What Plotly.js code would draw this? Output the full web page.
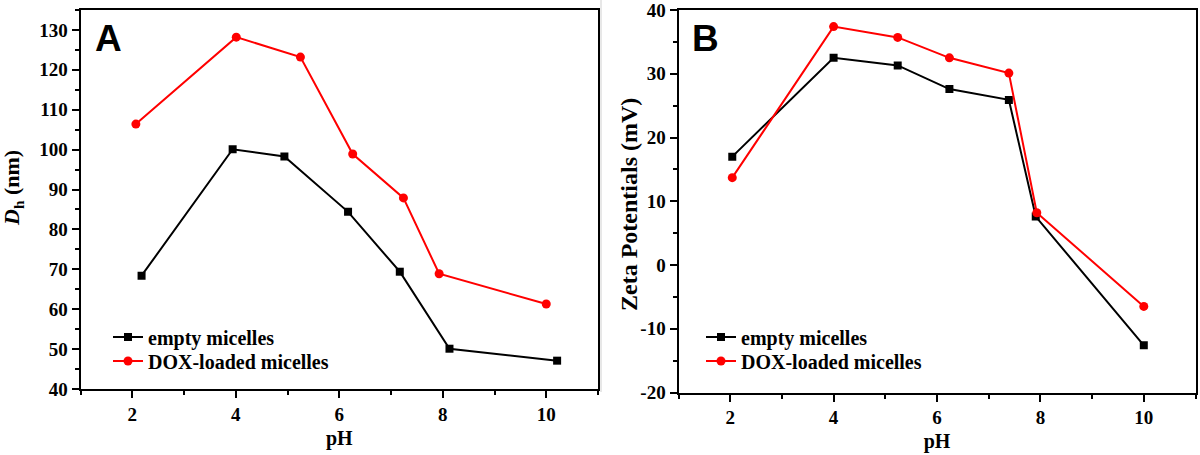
<!DOCTYPE html>
<html>
<head>
<meta charset="utf-8">
<script src="https://cdn.plot.ly/plotly-3.0.1.min.js"></script>
<style>html,body{margin:0;padding:0;background:#fff;}#chart{width:1200px;height:455px;}</style>
</head>
<body>
<div id="chart"></div>
<script>
// Panel A: hydrodynamic diameter vs pH
const phEmptyA = [2.18, 3.94, 4.94, 6.17, 7.17, 8.13, 10.21];
const dhEmpty  = [68.4, 100.1, 98.3, 84.4, 69.4, 50.1, 47.1];
const phDoxA   = [2.07, 4.01, 5.25, 6.26, 7.24, 7.93, 10.0];
const dhDox    = [106.4, 128.2, 123.2, 98.9, 87.9, 68.9, 61.3];

// Panel B: zeta potential vs pH
const phEmptyB = [2.04, 4.0, 5.24, 6.24, 7.39, 7.91, 10.0];
const zetaEmpty = [17.0, 32.5, 31.3, 27.6, 25.9, 7.6, -12.6];
const phDoxB   = [2.04, 4.0, 5.24, 6.24, 7.39, 7.93, 10.0];
const zetaDox  = [13.7, 37.4, 35.7, 32.5, 30.1, 8.2, -6.5];

const seriesNames = ["empty micelles", "DOX-loaded micelles"];
const xTicks = [2, 4, 6, 8, 10];
const yTicksB = [-20, -10, 0, 10, 20, 30, 40];
const yTickTextB = ["-20", "-10", "0", "10", "20", "30", "40"];
const panelLabels = ["A", "B"];
const yTitles = ["<i>D</i><sub>h</sub> (nm)", "Zeta Potentials (mV)"];
const xTitle = "pH";

const BLACK = "#000000", RED = "#ff0000";
const serif = {family: "Liberation Serif, Times New Roman, serif", weight: "bold", color: "#000"};

function tr(x, y, name, color, symbol, xa, ya, leg) {
  return {
    x: x, y: y, name: name, type: "scatter", mode: "lines+markers",
    xaxis: xa, yaxis: ya, legend: leg, showlegend: true,
    line: {color: color, width: 2},
    marker: {color: color, symbol: symbol, size: symbol === "square" ? 8 : 9}
  };
}

const data = [
  tr(phEmptyA, dhEmpty, seriesNames[0], BLACK, "square", "x", "y", "legend"),
  tr(phDoxA, dhDox, seriesNames[1], RED, "circle", "x", "y", "legend2"),
  tr(phEmptyB, zetaEmpty, seriesNames[0], BLACK, "square", "x2", "y2", "legend3"),
  tr(phDoxB, zetaDox, seriesNames[1], RED, "circle", "x2", "y2", "legend4")
];

function xax(domain, anchor) {
  return {
    domain: domain, anchor: anchor, range: [1, 11],
    tickvals: xTicks, ticks: "outside", ticklen: 7, tickwidth: 2, tickcolor: "#000",
    showline: true, linewidth: 2, linecolor: "#000", mirror: true,
    showgrid: false, zeroline: false, ticklabeloverflow: "allow",
    minor: {dtick: 1, tick0: 0, ticks: "outside", ticklen: 4, tickwidth: 2, tickcolor: "#000", showgrid: false},
    tickfont: Object.assign({size: 19}, serif),
    title: {text: xTitle, font: Object.assign({size: 20}, serif), standoff: 7}
  };
}
function yax(domain, anchor, range) {
  return {
    domain: domain, anchor: anchor, range: range,
    dtick: 10, ticks: "outside", ticklen: 7, tickwidth: 2, tickcolor: "#000",
    showline: true, linewidth: 2, linecolor: "#000", mirror: true,
    showgrid: false, zeroline: false, ticklabeloverflow: "allow",
    minor: {dtick: 5, ticks: "outside", ticklen: 4, tickwidth: 2, tickcolor: "#000", showgrid: false},
    tickfont: Object.assign({size: 19}, serif)
  };
}

function leg(xpx, ypx) {
  return {
    x: xpx/1200, y: 1 - ypx/455, xanchor: "left", yanchor: "middle",
    bgcolor: "rgba(0,0,0,0)", borderwidth: 0,
    font: Object.assign({size: 20}, serif)
  };
}

function annot(text, xpx, ypx, font, angle) {
  return {text: text, xref: "paper", yref: "paper", x: xpx/1200, y: 1 - ypx/455,
          showarrow: false, xanchor: "center", yanchor: "middle", textangle: angle || 0, font: font};
}
const letterFont = {family: "Liberation Sans, Arial, sans-serif", weight: "bold", size: 37, color: "#000"};

const yaxis2 = yax([1-392.5/455, 1-10/455], "x2", [-20, 40]);
yaxis2.tickvals = yTicksB;
yaxis2.ticktext = yTickTextB;

const layout = {
  width: 1200, height: 455,
  margin: {l: 0, r: 0, t: 0, b: 0},
  paper_bgcolor: "#fff", plot_bgcolor: "#fff",
  showlegend: true,
  xaxis: xax([80.5/1200, 598/1200], "y"),
  yaxis: yax([1-389/455, 1-10/455], "x", [40, 135]),
  xaxis2: xax([678.5/1200, 1195.5/1200], "y2"),
  yaxis2: yaxis2,
  legend: leg(108, 337),
  legend2: leg(108, 361),
  legend3: leg(701, 337),
  legend4: leg(701, 361),
  annotations: [
    annot(panelLabels[0], 108, 38, letterFont),
    annot(panelLabels[1], 705, 38, letterFont),
    annot(yTitles[0], 13, 188, Object.assign({size: 22}, serif), -90),
    annot(yTitles[1], 629, 205, Object.assign({size: 24}, serif), -90)
  ],
  shapes: [
    {type: "line", xref: "paper", yref: "paper", x0: 601/1200, x1: 601/1200, y0: 1-392/455, y1: 1,
     line: {color: "#d0d0d0", width: 1}}
  ]
};

Plotly.newPlot("chart", data, layout, {displayModeBar: false, staticPlot: true});
</script>
</body>
</html>
